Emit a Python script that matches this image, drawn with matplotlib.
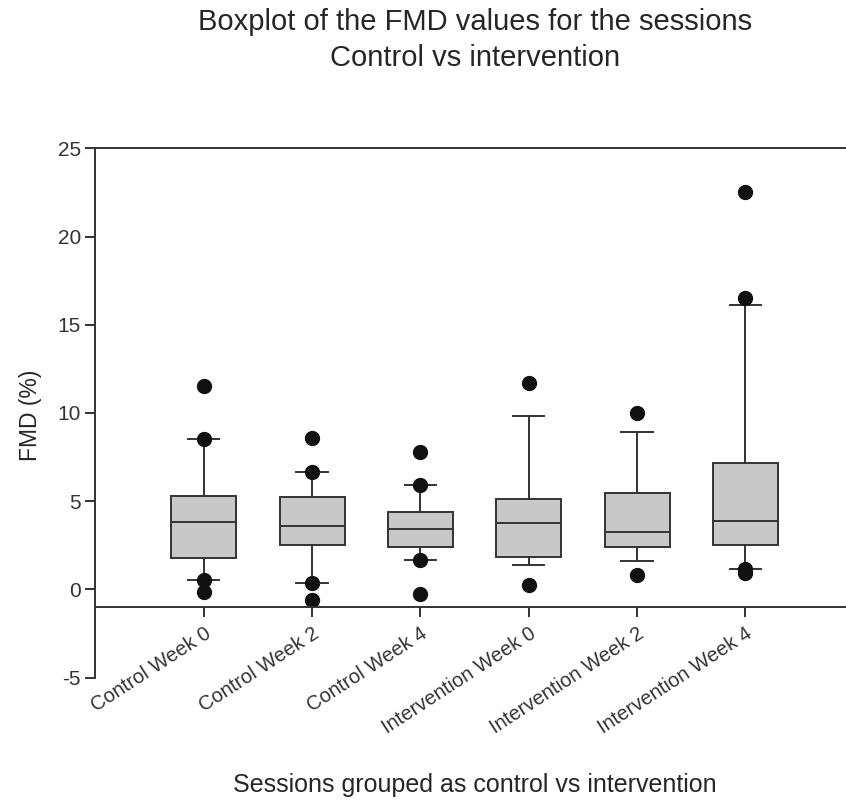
"""
Boxplot dos valores de FMD por sessão: controle vs intervenção
"""
import numpy as np
import matplotlib.pyplot as plt

plt.rcParams.update({
    "font.family": ["Liberation Sans", "DejaVu Sans"],
    "axes.unicode_minus": False,
    "axes.edgecolor": "#333333",
    "text.color": "#262626",
    "xtick.color": "#333333",
    "ytick.color": "#333333",
})

# --- dados ---
sessoes = ["Control Week 0", "Control Week 2", "Control Week 4",
           "Intervention Week 0", "Intervention Week 2", "Intervention Week 4"]
whisker_lo = [0.51, 0.39, 1.66, 1.36, 1.62, 1.17]
q1 = [1.77, 2.52, 2.43, 1.83, 2.43, 2.54]
mediana = [3.81, 3.58, 3.43, 3.75, 3.24, 3.90]
q3 = [5.29, 5.22, 4.37, 5.15, 5.45, 7.16]
whisker_hi = [8.54, 6.63, 5.94, 9.82, 8.95, 16.14]
outliers = [
    [11.52, 8.54, 0.51, -0.13],
    [8.58, 6.63, 0.39, -0.59],
    [7.78, 5.94, 1.66, -0.23],
    [11.69, 0.26],
    [10.01, 0.83],
    [22.51, 16.52, 1.17, 0.96],
]

stats = []
for i, nome in enumerate(sessoes):
    stats.append(dict(label=nome, whislo=whisker_lo[i], q1=q1[i], med=mediana[i],
                      q3=q3[i], whishi=whisker_hi[i], fliers=outliers[i]))

fig = plt.figure(figsize=(8.46, 8.01), dpi=100)
ax = fig.add_axes([95.4 / 846, 1 - 677.7 / 801, (845 - 95.4) / 846, (677.7 - 148.3) / 801])

pos = np.arange(1, len(sessoes) + 1)
ax.bxp(stats, positions=pos, widths=0.6, patch_artist=True,
       boxprops=dict(facecolor="#c8c8c8", edgecolor="#333333", linewidth=1.4),
       medianprops=dict(color="#333333", linewidth=1.4),
       whiskerprops=dict(color="#333333", linewidth=1.4),
       capprops=dict(color="#333333", linewidth=1.4),
       capwidths=0.29,
       flierprops=dict(marker="o", markerfacecolor="#111111", markeredgecolor="#111111",
                       markersize=10))

ax.set_xlim(0, 6.92)
ax.set_ylim(-5, 25)
ax.set_yticks([-5, 0, 5, 10, 15, 20, 25])
ax.spines["right"].set_visible(False)
ax.spines["bottom"].set_position(("data", -1))
for s in ax.spines.values():
    s.set_linewidth(1.4)
ax.tick_params(direction="out", length=7, width=1.4, labelsize=15)
ax.tick_params(axis="x", pad=5, labelsize=14.5)
ax.set_xticks(pos)
ax.set_xticklabels(sessoes, rotation=33, ha="right", va="top", rotation_mode="anchor")

fig.text(0.5615, 1 - 22 / 801, "Boxplot of the FMD values for the sessions",
         ha="center", va="center", fontsize=21)
fig.text(0.5615, 1 - 58 / 801, "Control vs intervention",
         ha="center", va="center", fontsize=21)
fig.text(475 / 846, 1 - 785 / 801, "Sessions grouped as control vs intervention",
         ha="center", va="center", fontsize=18)
fig.text(30 / 846, 1 - 415 / 801, "FMD (%)", rotation=90,
         ha="center", va="center", fontsize=16.5)

fig.savefig("out.png", dpi=100)
